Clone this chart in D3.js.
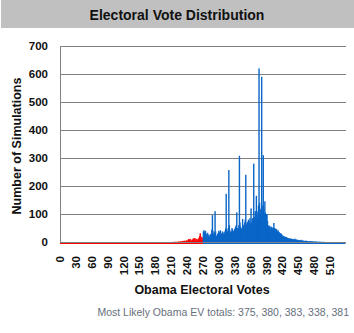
<!DOCTYPE html>
<html>
<head>
<meta charset="utf-8">
<script src="https://cdn.jsdelivr.net/npm/d3@7"></script>
<style>
  body { margin: 0; background: #fff; }
  text { font-family: Arial, "Liberation Sans", sans-serif; }
</style>
</head>
<body>
<div id="chart"></div>
<script>
// simulated counts per Obama EV total, starting at ev 210 (everything else ~0)
var firstEv = 210;
var counts = [
  0,0,0,0,1,0,0,1,0,0,            // 210
  1,0,1,0,2,0,1,3,0,1,            // 220
  2,4,0,3,5,1,0,4,6,2,            // 230
  3,8,10,2,9,11,1,6,2,9,          // 240
  4,13,3,12,14,2,5,11,3,6,        // 250
  12,4,16,21,31,8,5,19,6,14,      // 260
  38,42,35,25,40,28,22,30,33,26,  // 270
  24,20,18,28,22,30,45,96,40,30,  // 280
  26,35,110,38,22,20,25,30,28,40, // 290
  35,28,42,30,25,32,38,30,27,35,  // 300
  30,40,48,172,45,35,38,50,257,60, // 310
  42,35,30,38,50,45,40,38,35,48,  // 320
  42,55,60,106,50,45,48,60,308,70, // 330
  55,48,45,50,82,60,55,62,70,80,  // 340
  240,65,60,72,68,80,75,70,85,62, // 350
  120,70,60,85,72,280,90,75,110,95, // 360
  165,100,85,110,130,620,140,115,100,120, // 370
  590,130,110,310,120,100,145,105,90,100, // 380
  100,75,60,55,50,58,52,48,55,50, // 390
  45,52,48,68,50,45,48,42,46,40,  // 400
  38,42,36,35,30,32,28,30,26,24,  // 410
  22,20,21,18,19,17,16,18,15,14,  // 420
  14,13,12,12,11,13,10,11,10,9,   // 430
  10,9,8,12,8,7,9,7,8,6,          // 440
  7,6,5,6,5,8,4,5,4,5,            // 450
  4,3,4,3,5,3,3,2,3,2,            // 460
  2,3,2,2,3,1,2,2,1,1,            // 470
  1,1,2,1,1,0,1,1,0,1,            // 480
  0,1,0,0,1,0,0,0,1,0             // 490
];
var yTicks = [0, 100, 200, 300, 400, 500, 600, 700];
var xTicks = [0, 30, 60, 90, 120, 150, 180, 210, 240, 270, 300, 330, 360, 390, 420, 450, 480, 510];
var maxEv = 538;
var winAt = 270;
var mostLikely = [375, 380, 383, 338, 381];

var W = 354, H = 333;
var svg = d3.select("#chart").append("svg").attr("width", W).attr("height", H);

// title bar
svg.append("rect").attr("x", 1).attr("y", 0).attr("width", W - 1).attr("height", 28).attr("fill", "#c0c0c0");
svg.append("text").attr("x", 177).attr("y", 19.5).attr("text-anchor", "middle")
  .style("font-size", "14px").style("font-weight", "bold").attr("fill", "#111")
  .text("Electoral Vote Distribution");

var x = d3.scaleLinear().domain([0, maxEv + 1]).range([60, 345.5]);
var y = d3.scaleLinear().domain([0, 700]).range([242, 46]);

// full series 0..538
var data = d3.range(0, maxEv + 1).map(function (ev) {
  var i = ev - firstEv;
  return { ev: ev, n: (i >= 0 && i < counts.length) ? counts[i] : 0 };
});

// grid
svg.append("g").selectAll("line").data(yTicks.slice(1)).enter().append("line")
  .attr("x1", 60).attr("x2", 346)
  .attr("y1", d => Math.round(y(d)) + 0.5).attr("y2", d => Math.round(y(d)) + 0.5)
  .attr("stroke", "#808080").attr("stroke-width", 1);

// y labels
svg.append("g").selectAll("text").data(yTicks).enter().append("text")
  .attr("x", 48).attr("y", d => y(d) + 4).attr("text-anchor", "end")
  .style("font-size", "11.5px").style("font-weight", "bold").attr("fill", "#111")
  .text(d => d);

// bars, slightly wider than a bin so the spikes read like the original
var barW = 1.4;
svg.append("g").selectAll("rect").data(data.filter(d => d.n > 0)).enter().append("rect")
  .attr("x", d => x(d.ev) - 0.3)
  .attr("width", barW)
  .attr("y", d => y(d.n))
  .attr("height", d => y(0) - y(d.n))
  .attr("fill", d => d.ev < winAt ? "#ff0000" : "#0a66c8");

// axes lines
svg.append("line").attr("x1", 60.5).attr("x2", 60.5).attr("y1", 46).attr("y2", 242)
  .attr("stroke", "#808080");
svg.append("line").attr("x1", 60).attr("x2", 346).attr("y1", 242.5).attr("y2", 242.5)
  .attr("stroke", "#808080");
svg.append("line").attr("x1", x(0)).attr("x2", x(winAt)).attr("y1", 243.5).attr("y2", 243.5)
  .attr("stroke", "#ff0000");
svg.append("line").attr("x1", x(winAt)).attr("x2", x(maxEv + 1)).attr("y1", 243.5).attr("y2", 243.5)
  .attr("stroke", "#0a66c8");

// x labels (rotated)
svg.append("g").selectAll("text").data(xTicks).enter().append("text")
  .attr("transform", d => "translate(" + (x(d) + 4) + ",256) rotate(-90)")
  .attr("text-anchor", "end")
  .style("font-size", "11.5px").style("font-weight", "bold").attr("fill", "#111")
  .text(d => d);

// axis titles
svg.append("text").attr("transform", "translate(21,146) rotate(-90)").attr("text-anchor", "middle")
  .style("font-size", "12.5px").style("font-weight", "bold").attr("fill", "#111")
  .text("Number of Simulations");
svg.append("text").attr("x", 202).attr("y", 294).attr("text-anchor", "middle")
  .style("font-size", "12.5px").style("font-weight", "bold").attr("fill", "#111")
  .text("Obama Electoral Votes");

svg.append("text").attr("x", 349).attr("y", 316).attr("text-anchor", "end")
  .style("font-size", "10.5px").attr("fill", "#676f7c")
  .text("Most Likely Obama EV totals: " + mostLikely.join(", "));
</script>
</body>
</html>
